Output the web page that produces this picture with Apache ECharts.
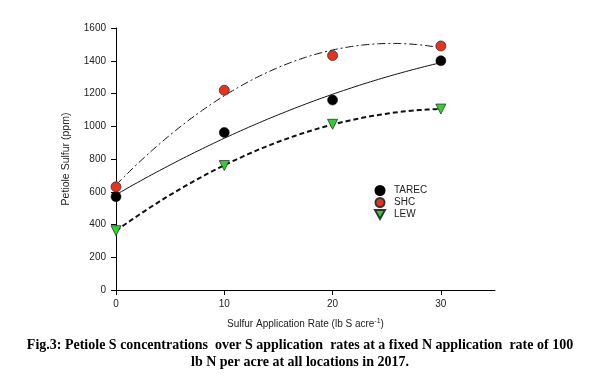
<!DOCTYPE html>
<html><head><meta charset="utf-8">
<script src="https://cdn.jsdelivr.net/npm/echarts@6/dist/echarts.min.js"></script>
<style>html,body{margin:0;padding:0;background:#fff}#c{width:600px;height:381px}</style>
</head><body><div id="c"></div>
<script>
const rates = [0, 10, 20, 30];
const tarec = [570, 962, 1160, 1400];
const shc = [630, 1220, 1432, 1490];
const lew = [362, 760, 1012, 1105];
const xTicks = [0, 10, 20, 30];
const yTicks = [0, 200, 400, 600, 800, 1000, 1200, 1400, 1600];

// quadratic least-squares fit
function quadFit(xs, ys) {
  let n = xs.length, S = [0,0,0,0,0], T = [0,0,0];
  for (let i = 0; i < n; i++) {
    let p = 1;
    for (let k = 0; k < 5; k++) { S[k] += p; if (k < 3) T[k] += p * ys[i]; p *= xs[i]; }
  }
  const A = [[S[0],S[1],S[2],T[0]],[S[1],S[2],S[3],T[1]],[S[2],S[3],S[4],T[2]]];
  for (let i = 0; i < 3; i++) {
    for (let j = i + 1; j < 3; j++) {
      const f = A[j][i] / A[i][i];
      for (let k = i; k < 4; k++) A[j][k] -= f * A[i][k];
    }
  }
  const c = [0,0,0];
  for (let i = 2; i >= 0; i--) {
    let s = A[i][3];
    for (let k = i + 1; k < 3; k++) s -= A[i][k] * c[k];
    c[i] = s / A[i][i];
  }
  return x => c[0] + c[1] * x + c[2] * x * x;
}
function curve(ys) {
  const f = quadFit(rates, ys), out = [];
  const x0 = rates[0], x1 = rates[rates.length - 1];
  for (let i = 0; i <= 120; i++) { const x = x0 + (x1 - x0) * i / 120; out.push([x, f(x)]); }
  return out;
}
const pts = ys => rates.map((x, i) => [x, ys[i]]);

const chart = echarts.init(document.getElementById('c'));
const font = 'Liberation Sans, Arial, sans-serif';
chart.setOption({
  animation: false,
  backgroundColor: '#fff',
  grid: { left: 116, right: 105, top: 28, bottom: 91 },
  xAxis: {
    type: 'value', min: 0, max: 35, interval: 10,
    axisLine: { lineStyle: { color: '#000', width: 1 } },
    axisTick: { length: 5, lineStyle: { color: '#000' }, customValues: xTicks },
    axisLabel: { fontFamily: font, fontSize: 10, color: '#222', margin: 9, customValues: xTicks },
    splitLine: { show: false },
    name: '{a|Sulfur Application Rate (lb S acre}{s|-1}{a|)}',
    nameLocation: 'middle', nameGap: 28,
    nameTextStyle: { rich: { a: { fontFamily: font, fontSize: 10, color: '#222', lineHeight: 12 }, s: { fontFamily: font, fontSize: 7, color: '#222', padding: [0, 0, 6, 0], lineHeight: 12 } } }
  },
  yAxis: {
    type: 'value', min: 0, max: 1600, interval: 200,
    axisLine: { show: true, lineStyle: { color: '#000', width: 1 } },
    axisTick: { show: true, length: 5, lineStyle: { color: '#000' } },
    axisLabel: { fontFamily: font, fontSize: 10, color: '#222', margin: 10, formatter: v => String(v) },
    splitLine: { show: false },
    name: 'Petiole Sulfur (ppm)', nameLocation: 'middle', nameGap: 44,
    nameTextStyle: { fontFamily: font, fontSize: 10.5, color: '#222' }
  },
  legend: {
    orient: 'vertical', left: 369, top: 180, itemGap: 1, itemWidth: 10, itemHeight: 9,
    textStyle: { fontFamily: font, fontSize: 10, color: '#222', padding: [0, 0, 0, 4], lineHeight: 11 },
    data: [
      { name: 'TAREC', icon: 'circle' },
      { name: 'SHC', icon: 'circle' },
      { name: 'LEW', icon: 'path://M0,0 L10,0 L5,9 Z' }
    ]
  },
  title: {
    text: 'Fig.3: Petiole S concentrations  over S application  rates at a fixed N application  rate of 100\nlb N per acre at all locations in 2017.',
    left: 'center', top: 332,
    textStyle: { fontFamily: 'Liberation Serif, Times New Roman, serif', fontWeight: 'bold', fontSize: 14, lineHeight: 17, color: '#000', align: 'center' }
  },
  series: [
    { type: 'line', data: curve(tarec), showSymbol: false, symbol: 'none', lineStyle: { color: '#111', width: 1 }, z: 2, silent: true },
    { type: 'line', data: curve(shc), showSymbol: false, symbol: 'none', lineStyle: { color: '#111', width: 1, type: [8, 3, 2, 3] }, z: 2, silent: true },
    { type: 'line', data: curve(lew), showSymbol: false, symbol: 'none', lineStyle: { color: '#111', width: 2, type: [5, 3] }, z: 2, silent: true },
    { name: 'TAREC', type: 'scatter', data: pts(tarec), symbol: 'circle', symbolSize: 10, itemStyle: { color: '#000', borderColor: '#000', borderWidth: 0.5, opacity: 1 }, z: 5 },
    { name: 'SHC', type: 'scatter', data: pts(shc), symbol: 'circle', symbolSize: 10, itemStyle: { color: '#e8321e', borderColor: '#333', borderWidth: 0.8, opacity: 1 }, z: 5 },
    { name: 'LEW', type: 'scatter', data: pts(lew), symbol: 'triangle', symbolRotate: 180, symbolSize: 10, itemStyle: { color: '#2fd12f', borderColor: '#333', borderWidth: 0.8, opacity: 1 }, z: 5 }
  ]
});
</script></body></html>
